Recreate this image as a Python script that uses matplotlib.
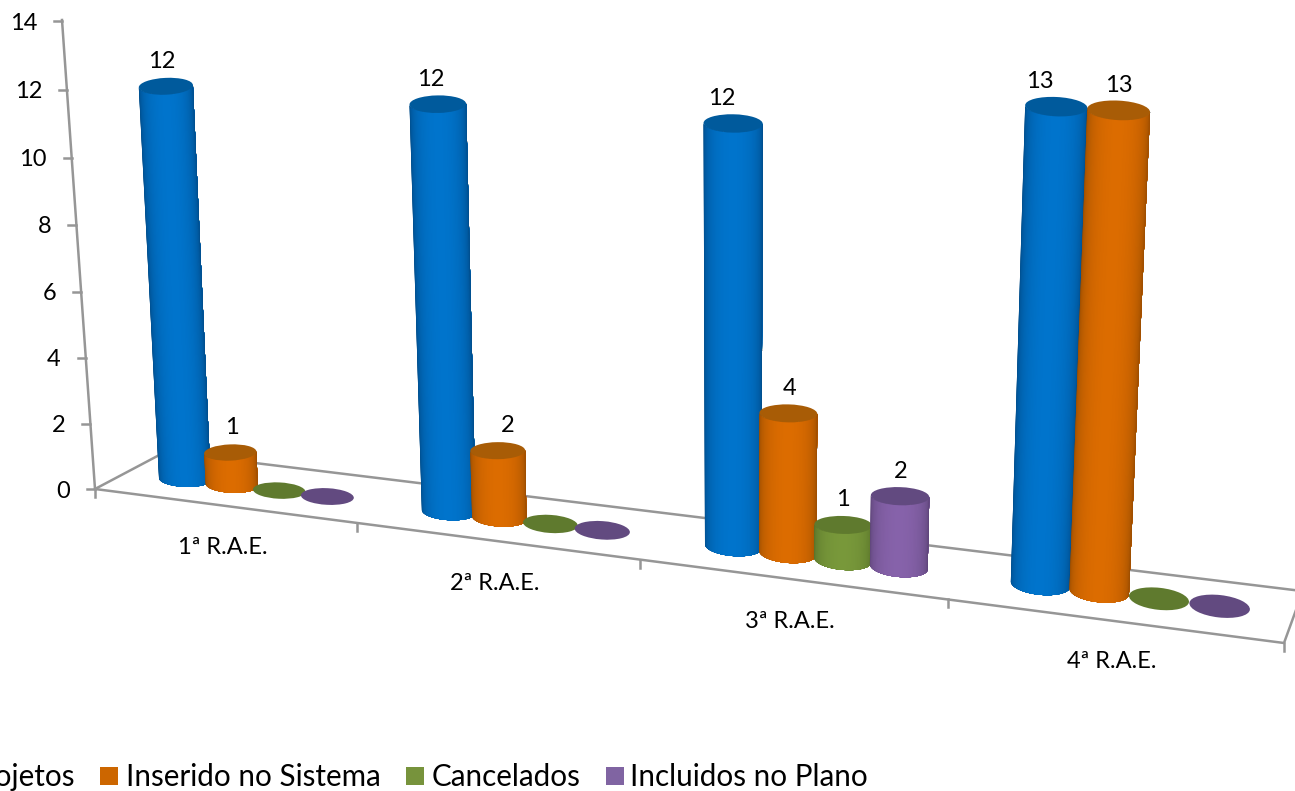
import numpy as np
import matplotlib
matplotlib.use('Agg')
import matplotlib.pyplot as plt
from matplotlib.collections import PolyCollection
from matplotlib.patches import Ellipse, Rectangle
from matplotlib.colors import to_rgb

plt.rcParams['font.family'] = ['Lato', 'DejaVu Sans']

categories = ['1ª R.A.E.', '2ª R.A.E.', '3ª R.A.E.', '4ª R.A.E.']
series_names = ['Projetos', 'Inserido no Sistema', 'Cancelados', 'Incluidos no Plano']
projetos = [12, 12, 12, 13]
inseridos = [1, 2, 4, 13]
cancelados = [0, 0, 1, 0]
incluidos = [0, 0, 2, 0]
y_ticks = [0, 2, 4, 6, 8, 10, 12, 14]

series = [projetos, inseridos, cancelados, incluidos]
# cor central, cor da borda, cor do topo
colors = [('#0074cc', '#00467f', '#005a9c'),
          ('#dc6c00', '#8f4800', '#a85c06'),
          ('#78983a', '#516a26', '#5f7a2e'),
          ('#8662aa', '#574070', '#624a80')]

# ajuste dos rotulos em relacao ao topo de cada cilindro
label_dx = [[-4, -7, -11, -16], [2, 10, 1, 0], [0, 0, 0, 0], [0, 0, 1, 0]]

PERSP = 0.0355


def pos_t(cat, ser):
    return cat + 0.225 + ser * 0.183


def base_x(t):
    return 128 + 250.5 * t / (1 - PERSP * t)


def base_y(x):
    return 479 + 0.123 * (x - 185)


def height(v, t):
    return 31.7 * v / (1 - 0.00196 * v) / (1 - PERSP * t)


def lean(v, x):
    d = x - 733
    return v * (0.0036 * d + 1.31e-6 * d * d)


def ell_pts(cx, cy, a, b, tilt, th):
    px = a * np.cos(th)
    py = b * np.sin(th)
    c, s = np.cos(np.radians(tilt)), np.sin(np.radians(tilt))
    return cx + px * c - py * s, cy + px * s + py * c


def cylinder(ax, t, v, col, label, dx):
    mid, edge, top = [np.array(to_rgb(c)) for c in col]
    s = 1 / (1 - PERSP * t)
    x0 = base_x(t)
    y0 = base_y(x0)
    r = 25.6 * s ** 1.2
    b0 = r * (0.30 + 0.018 * t)
    tilt0 = 2 + 1.2 * t
    if v == 0:
        ax.add_patch(Ellipse((x0, y0), 2 * r, 2 * b0, angle=tilt0, color=top, lw=0, zorder=3 + t))
        return
    x1 = x0 + lean(v, x0)
    y1 = y0 - height(v, t)
    r1 = r * (1 + 0.004 * v)
    b1 = r1 * 0.31
    tilt1 = -3 + 1.8 * t

    th = np.linspace(np.pi, 0, 61)
    xb, yb = ell_pts(x0, y0, r, b0, tilt0, th)
    xt, yt = ell_pts(x1, y1, r1, b1, tilt1, th)
    polys, faces = [], []
    for i in range(len(th) - 1):
        # cada faixa vai ate ao fim do cilindro para nao deixar riscas entre faixas
        polys.append(list(zip(xt[i:], yt[i:])) + list(zip(xb[i:][::-1], yb[i:][::-1])))
        k = np.sin((th[i] + th[i + 1]) / 2) ** 0.75
        faces.append(edge + (mid - edge) * k)
    ax.add_collection(PolyCollection(polys, facecolors=faces, edgecolors='none', zorder=3 + t))
    ax.add_patch(Ellipse((x1, y1), 2 * r1, 2 * b1, angle=tilt1, color=top, lw=0, zorder=3 + t + 0.01))
    ax.text(x1 + dx, y1 - 25, str(label), ha='center', va='center', fontsize=17, color='black', zorder=20)


fig = plt.figure(figsize=(12.95, 7.91), dpi=100)
ax = fig.add_axes([0, 0, 1, 1])
ax.set_xlim(0, 1295)
ax.set_ylim(791, 0)
ax.axis('off')

grey = '#969696'
# chao e parede
ax.plot([62, 95, 165, 1310], [20, 489, 452, 592], color=grey, lw=1.8, zorder=1)
ax.plot([95, 1284, 1296], [489, 643, 610], color=grey, lw=1.8, zorder=1)

for v in y_ticks:
    yy = 489 - 32.5 * v / (1 - 0.00196 * v)
    xx = 95 - 33 * (489 - yy) / 469
    ax.plot([xx - 8, xx], [yy, yy], color=grey, lw=1.8, zorder=1)
    ax.text(xx - 25, yy + 2, str(v), ha='right', va='center', fontsize=17, color='black')

# marcas das categorias
for i in range(5):
    xt = 95 + 1189 * (i / (1 - 0.0385 * i)) / (4 / (1 - 0.0385 * 4))
    yt = 489 + (xt - 95) * 0.1295
    ax.plot([xt, xt], [yt, yt + 8], color=grey, lw=1.8, zorder=1)

label_pos = [(223, 548), (495, 584), (790, 621), (1112, 662)]
for name, p in zip(categories, label_pos):
    ax.text(p[0], p[1], name, ha='center', va='center', fontsize=17, color='black')

for c in range(len(categories)):
    for j, vals in enumerate(series):
        cylinder(ax, pos_t(c, j), vals[c], colors[j], vals[c], label_dx[j][c])

# legenda, cortada a esquerda como no original
ax.text(75, 777, series_names[0], ha='right', va='center', fontsize=21.3, color='black')
for name, col, xs, xl in zip(series_names[1:], ['#cc6600', '#77933c', '#8064a2'], [100, 406, 606], [126, 432, 630]):
    ax.add_patch(Rectangle((xs, 767), 18, 18, color=col, lw=0))
    ax.text(xl, 777, name, ha='left', va='center', fontsize=21.3, color='black')

fig.savefig('out.png', dpi=100)
